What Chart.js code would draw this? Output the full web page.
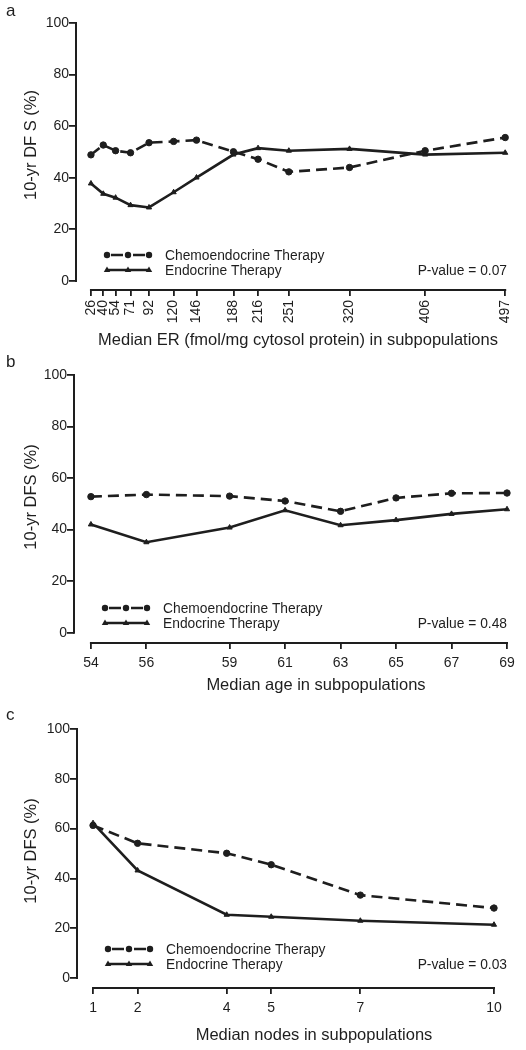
<!DOCTYPE html>
<html>
<head>
<meta charset="utf-8">
<script src="https://cdn.jsdelivr.net/npm/chart.js@4.4.0/dist/chart.umd.min.js"></script>
<style>
  body { margin: 0; background: #fff; width: 526px; height: 1050px; position: relative; overflow: hidden; }
  canvas { position: absolute; left: 0; }
</style>
</head>
<body>
<canvas id="chartA" width="526" height="352" style="top:0px"></canvas>
<canvas id="chartB" width="526" height="344" style="top:352px"></canvas>
<canvas id="chartC" width="526" height="354" style="top:696px"></canvas>
<script>
// values
var seriesNames = ["Chemoendocrine Therapy", "Endocrine Therapy"];
var yTicks = [0, 20, 40, 60, 80, 100];

// panel a - median ER
var erTicks = [26, 40, 54, 71, 92, 120, 146, 188, 216, 251, 320, 406, 497];
var erChemo = [48.9, 52.7, 50.5, 49.7, 53.6, 54.1, 54.6, 50.1, 47.2, 42.3, 44.0, 50.5, 55.6];
var erEndo  = [37.8, 33.8, 32.3, 29.4, 28.5, 34.4, 40.1, 49.0, 51.5, 50.5, 51.2, 49.0, 49.7];

// panel b - median age
var ageTicks = [54, 56, 59, 61, 63, 65, 67, 69];
var ageChemo = [52.8, 53.6, 53.0, 51.1, 47.1, 52.3, 54.1, 54.2];
var ageEndo  = [42.0, 35.1, 40.8, 47.5, 41.7, 43.7, 46.1, 47.9];

// panel c - median nodes
var nodeTicks = [1, 2, 4, 5, 7, 10];
var nodeChemo = [61.3, 54.1, 50.1, 45.5, 33.3, 28.1];
var nodeEndo  = [62.2, 43.2, 25.4, 24.6, 23.0, 21.4];

var ink = "#1e1e1e";
var fam = '"Liberation Sans", Arial, Helvetica, sans-serif';

function toPoints(xs, ys) {
  return xs.map(function (x, i) { return { x: x, y: ys[i] }; });
}

function tri(ctx, x, y, r) {
  ctx.beginPath();
  ctx.moveTo(x, y - r);
  ctx.lineTo(x + r * 0.95, y + r * 0.6);
  ctx.lineTo(x - r * 0.95, y + r * 0.6);
  ctx.closePath();
  ctx.fill();
}

// axis lines, letter, titles, legend and p-value
var decor = {
  id: "decor",
  afterDraw: function (chart, args, o) {
    var ctx = chart.ctx, ca = chart.chartArea;
    var xs = chart.scales.x, ys = chart.scales.y;
    ctx.save();
    ctx.strokeStyle = ink;
    ctx.fillStyle = ink;
    ctx.lineWidth = 2;
    // offset axes like the original
    ctx.beginPath();
    ctx.moveTo(ca.left, ys.getPixelForValue(100) - 1);
    ctx.lineTo(ca.left, ys.getPixelForValue(0) + 1);
    ctx.moveTo(xs.getPixelForValue(o.ticks[0]) - 1, ca.bottom);
    ctx.lineTo(xs.getPixelForValue(o.ticks[o.ticks.length - 1]) + 1, ca.bottom);
    ctx.stroke();

    // panel letter
    ctx.font = "17px " + fam;
    ctx.textAlign = "left";
    ctx.textBaseline = "middle";
    ctx.fillText(o.letter, 6, o.letterY);

    // axis titles
    ctx.font = "16.5px " + fam;
    ctx.textAlign = "center";
    ctx.fillText(o.xTitle, o.xTitleX, o.xTitleY);
    ctx.save();
    ctx.translate(31, ca.top + 122);
    ctx.rotate(-Math.PI / 2);
    ctx.fillText(o.yTitle, 0, 0);
    ctx.restore();

    // legend
    var x0 = ca.left + 31, y1 = o.legendY[0], y2 = o.legendY[1];
    ctx.lineWidth = 2.5;
    ctx.beginPath();
    ctx.moveTo(x0 + 4, y1); ctx.lineTo(x0 + 16, y1);
    ctx.moveTo(x0 + 26, y1); ctx.lineTo(x0 + 38, y1);
    ctx.moveTo(x0, y2); ctx.lineTo(x0 + 42, y2);
    ctx.stroke();
    [0, 21, 42].forEach(function (d) {
      ctx.beginPath();
      ctx.arc(x0 + d, y1, 3.2, 0, Math.PI * 2);
      ctx.fill();
      tri(ctx, x0 + d, y2, 3.4);
    });
    ctx.font = "13.8px " + fam;
    ctx.textAlign = "left";
    ctx.fillText(seriesNames[0], x0 + 58, y1 + 1);
    ctx.fillText(seriesNames[1], x0 + 58, y2 + 1);
    ctx.textAlign = "right";
    ctx.fillText(o.pValue, 507, y2 + 1);
    ctx.restore();
  }
};

function makePanel(id, p) {
  var ctx = document.getElementById(id).getContext("2d");
  return new Chart(ctx, {
    type: "line",
    data: {
      datasets: [{
        label: seriesNames[0],
        data: toPoints(p.ticks, p.chemo),
        borderColor: ink,
        backgroundColor: ink,
        borderWidth: 2.6,
        borderDash: [11, 6],
        pointStyle: "circle",
        pointRadius: 3.2,
        pointBorderWidth: 1,
        tension: 0,
        clip: false
      }, {
        label: seriesNames[1],
        data: toPoints(p.ticks, p.endo),
        borderColor: ink,
        backgroundColor: ink,
        borderWidth: 2.6,
        pointStyle: "triangle",
        pointRadius: 3,
        pointBorderWidth: 1,
        tension: 0,
        clip: false
      }]
    },
    options: {
      responsive: false,
      animation: false,
      events: [],
      layout: { padding: { top: p.padTop, right: p.padRight, left: 0, bottom: 0 } },
      plugins: {
        legend: { display: false },
        tooltip: { enabled: false },
        decor: {
          ticks: p.ticks, letter: p.letter, letterY: p.letterY, yTitle: p.yTitle,
          xTitle: p.xTitle, xTitleX: p.xTitleX, xTitleY: p.xTitleY,
          legendY: p.legendY, pValue: p.pValue
        }
      },
      scales: {
        x: {
          type: "linear",
          min: p.xMin,
          max: p.xMax,
          afterBuildTicks: function (s) { s.ticks = p.ticks.map(function (v) { return { value: v }; }); },
          afterFit: function (s) { s.height = p.xHeight; },
          border: { display: false },
          grid: { drawOnChartArea: false, drawTicks: true, tickLength: 6, color: ink, lineWidth: 1.8 },
          ticks: {
            autoSkip: false, minRotation: p.rot, maxRotation: p.rot, padding: p.tickPad,
            color: ink, font: { family: fam, size: 14 },
            callback: function (v) { return String(v); }
          }
        },
        y: {
          min: p.yMin,
          max: 100,
          afterBuildTicks: function (s) { s.ticks = yTicks.map(function (v) { return { value: v }; }); },
          afterFit: function (s) { s.width = p.left; },
          border: { display: false },
          grid: { drawOnChartArea: false, drawTicks: true, tickLength: 7, color: ink, lineWidth: 1.8 },
          ticks: { padding: 0, color: ink, font: { family: fam, size: 14 } }
        }
      }
    },
    plugins: [decor]
  });
}

makePanel("chartA", {
  ticks: erTicks, chemo: erChemo, endo: erEndo,
  letter: "a", letterY: 11, yTitle: "10-yr DF S (%)",
  xTitle: "Median ER (fmol/mg cytosol protein) in subpopulations", xTitleX: 298, xTitleY: 340,
  pValue: "P-value = 0.07", legendY: [255, 270],
  left: 76, padTop: 23, padRight: 19, xMin: 9.0, xMax: 497, yMin: -3.49,
  xHeight: 62, rot: 90, tickPad: 4
});

makePanel("chartB", {
  ticks: ageTicks, chemo: ageChemo, endo: ageEndo,
  letter: "b", letterY: 10, yTitle: "10-yr DFS (%)",
  xTitle: "Median age in subpopulations", xTitleX: 316, xTitleY: 333,
  pValue: "P-value = 0.48", legendY: [256, 271],
  left: 74, padTop: 23, padRight: 19, xMin: 53.39, xMax: 69, yMin: -4.0,
  xHeight: 53, rot: 0, tickPad: 6
});

makePanel("chartC", {
  ticks: nodeTicks, chemo: nodeChemo, endo: nodeEndo,
  letter: "c", letterY: 19, yTitle: "10-yr DFS (%)",
  xTitle: "Median nodes in subpopulations", xTitleX: 314, xTitleY: 339,
  pValue: "P-value = 0.03", legendY: [253, 268],
  left: 77, padTop: 33, padRight: 32, xMin: 0.64, xMax: 10, yMin: -4.0,
  xHeight: 62, rot: 0, tickPad: 6
});
</script>
</body>
</html>
